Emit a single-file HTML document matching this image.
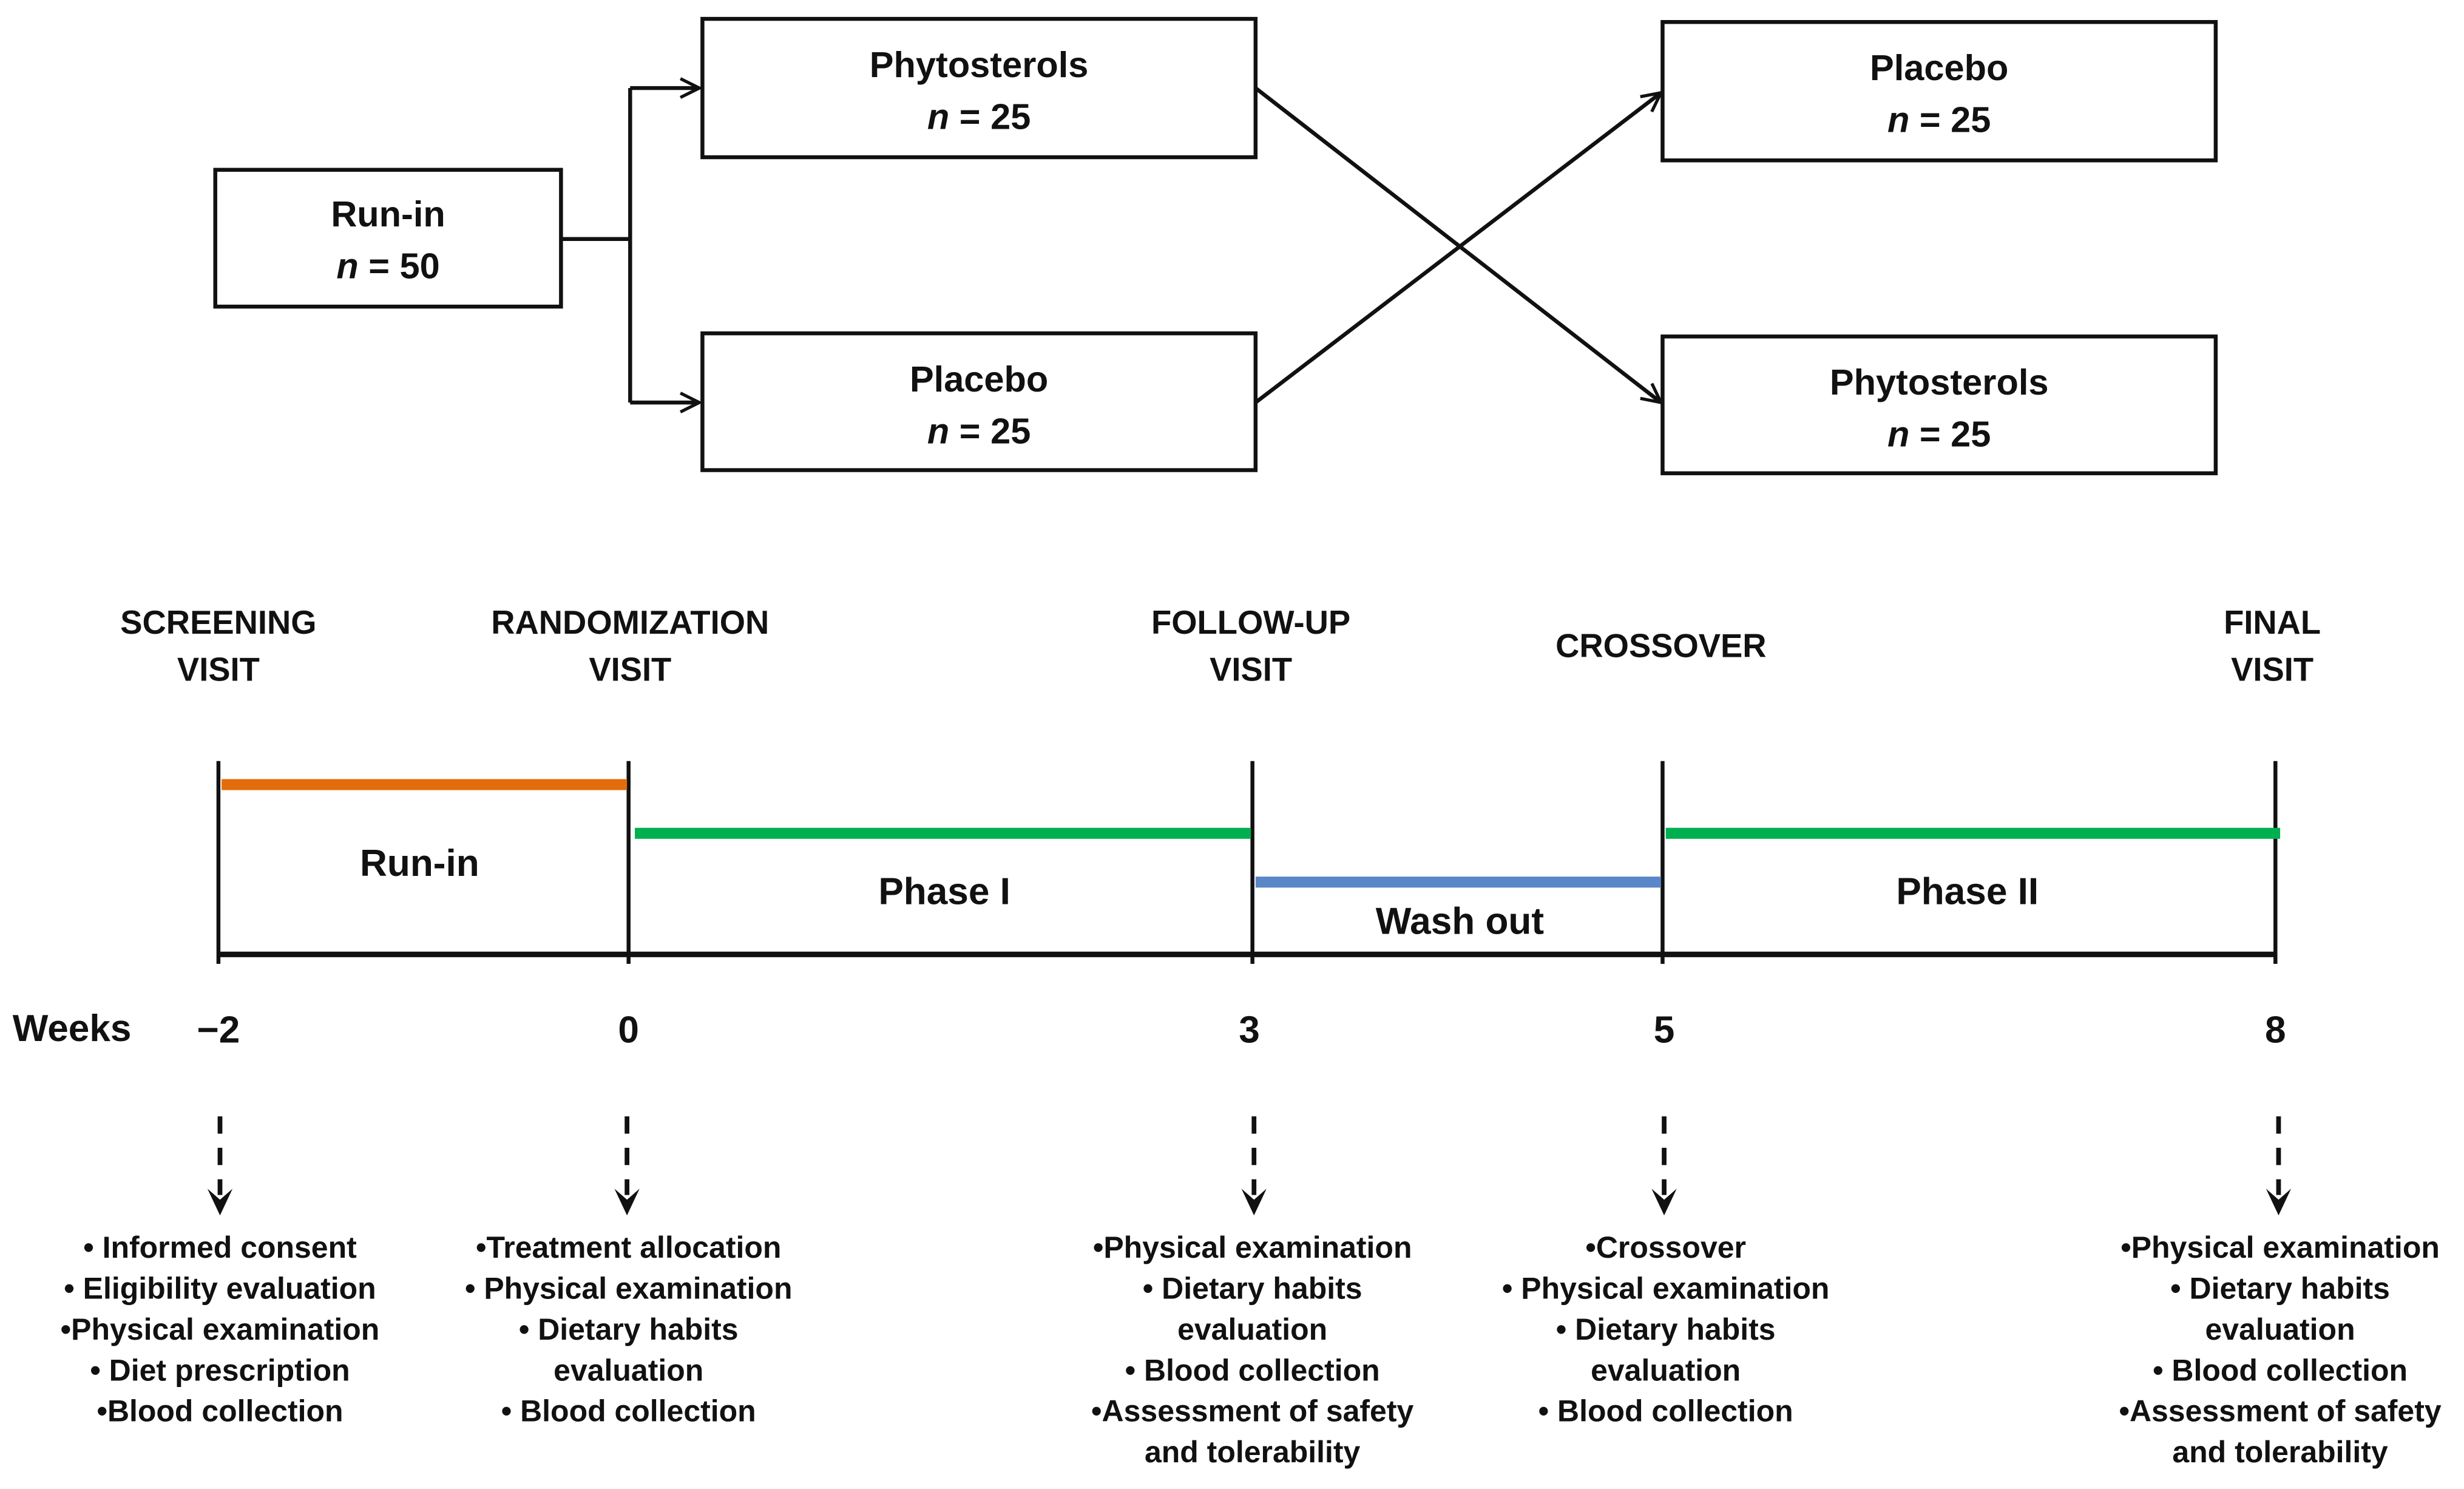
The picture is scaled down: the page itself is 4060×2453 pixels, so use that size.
<!DOCTYPE html>
<html><head><meta charset="utf-8"><style>
html,body{margin:0;padding:0;background:#fff;}
svg{display:block;}
text{font-family:"Liberation Sans",sans-serif;fill:#111;}
.h{font-size:21px;font-weight:bold;text-anchor:middle;}
.b{font-size:23px;font-weight:bold;text-anchor:middle;}
.p{font-size:24px;font-weight:bold;text-anchor:middle;}
.l{font-size:19.3px;font-weight:bold;text-anchor:middle;}
</style></head><body>
<svg width="4060" height="2453" viewBox="0 0 1568 947" preserveAspectRatio="none" xmlns="http://www.w3.org/2000/svg">
<defs>
<marker id="a" viewBox="0 0 14 14" refX="13" refY="7" markerWidth="14" markerHeight="14" markerUnits="userSpaceOnUse" orient="auto">
<path d="M1,1 L13,7 L1,13" fill="none" stroke="#111" stroke-width="2"/>
</marker>
</defs>
<g fill="none" stroke="#111" stroke-width="2.5">
<rect x="137" y="108" width="220" height="87"/>
<rect x="447" y="12" width="352" height="88"/>
<rect x="447" y="212" width="352" height="87"/>
<rect x="1058" y="14" width="352" height="88"/>
<rect x="1058" y="214" width="352" height="87"/>
<path d="M357,152 H401 M401,56 V256"/>
<path d="M401,56 H445" marker-end="url(#a)"/>
<path d="M401,256 H445" marker-end="url(#a)"/>
<path d="M799,56 L1057,256" marker-end="url(#a)"/>
<path d="M799,256 L1057,59" marker-end="url(#a)"/>
</g>
<text class="b" x="247" y="144">Run-in</text><text class="b" x="247" y="177"><tspan font-style="italic">n</tspan> = 50</text>
<text class="b" x="623" y="49">Phytosterols</text><text class="b" x="623" y="82"><tspan font-style="italic">n</tspan> = 25</text>
<text class="b" x="623" y="249">Placebo</text><text class="b" x="623" y="282"><tspan font-style="italic">n</tspan> = 25</text>
<text class="b" x="1234" y="51">Placebo</text><text class="b" x="1234" y="84"><tspan font-style="italic">n</tspan> = 25</text>
<text class="b" x="1234" y="251">Phytosterols</text><text class="b" x="1234" y="284"><tspan font-style="italic">n</tspan> = 25</text>

<text class="h" x="139" y="403">SCREENING</text><text class="h" x="139" y="433">VISIT</text>
<text class="h" x="401" y="403">RANDOMIZATION</text><text class="h" x="401" y="433">VISIT</text>
<text class="h" x="796" y="403">FOLLOW-UP</text><text class="h" x="796" y="433">VISIT</text>
<text class="h" x="1057" y="418">CROSSOVER</text>
<text class="h" x="1446" y="403">FINAL</text><text class="h" x="1446" y="433">VISIT</text>

<g stroke="#111" stroke-width="2.5">
<path d="M139,484 V613 M400,484 V613 M797,484 V613 M1058,484 V613 M1448,484 V613"/>
<path d="M139,607 H1448" stroke-width="3.5"/>
</g>
<path d="M141,499 H399" stroke="#E46C0A" stroke-width="7"/>
<path d="M404,530 H796" stroke="#00B050" stroke-width="7"/>
<path d="M799,561 H1057" stroke="#5B87C8" stroke-width="7"/>
<path d="M1060,530 H1451" stroke="#00B050" stroke-width="7"/>
<text class="p" x="267" y="557">Run-in</text>
<text class="p" x="601" y="575">Phase I</text>
<text class="p" x="929" y="594">Wash out</text>
<text class="p" x="1252" y="575">Phase II</text>

<text class="p" x="8" y="662" style="text-anchor:start">Weeks</text>
<text class="p" x="139" y="663">−2</text>
<text class="p" x="400" y="663">0</text>
<text class="p" x="795" y="663">3</text>
<text class="p" x="1059" y="663">5</text>
<text class="p" x="1448" y="663">8</text>

<g stroke="#111" stroke-width="3" fill="#111">
<path d="M140,710 V760 M399,710 V760 M798,710 V760 M1059,710 V760 M1450,710 V760" stroke-dasharray="11,9"/>
</g>
<g fill="#111">
<path d="M132,756 L140,773 L148,756 L140,763Z"/>
<path d="M391,756 L399,773 L407,756 L399,763Z"/>
<path d="M790,756 L798,773 L806,756 L798,763Z"/>
<path d="M1051,756 L1059,773 L1067,756 L1059,763Z"/>
<path d="M1442,756 L1450,773 L1458,756 L1450,763Z"/>
</g>

<text class="l" x="140" y="800">• Informed consent</text>
<text class="l" x="140" y="826">• Eligibility evaluation</text>
<text class="l" x="140" y="852">•Physical examination</text>
<text class="l" x="140" y="878">• Diet prescription</text>
<text class="l" x="140" y="904">•Blood collection</text>

<text class="l" x="400" y="800">•Treatment allocation</text>
<text class="l" x="400" y="826">• Physical examination</text>
<text class="l" x="400" y="852">• Dietary habits</text>
<text class="l" x="400" y="878">evaluation</text>
<text class="l" x="400" y="904">• Blood collection</text>

<text class="l" x="797" y="800">•Physical examination</text>
<text class="l" x="797" y="826">• Dietary habits</text>
<text class="l" x="797" y="852">evaluation</text>
<text class="l" x="797" y="878">• Blood collection</text>
<text class="l" x="797" y="904">•Assessment of safety</text>
<text class="l" x="797" y="930">and tolerability</text>

<text class="l" x="1060" y="800">•Crossover</text>
<text class="l" x="1060" y="826">• Physical examination</text>
<text class="l" x="1060" y="852">• Dietary habits</text>
<text class="l" x="1060" y="878">evaluation</text>
<text class="l" x="1060" y="904">• Blood collection</text>

<text class="l" x="1451" y="800">•Physical examination</text>
<text class="l" x="1451" y="826">• Dietary habits</text>
<text class="l" x="1451" y="852">evaluation</text>
<text class="l" x="1451" y="878">• Blood collection</text>
<text class="l" x="1451" y="904">•Assessment of safety</text>
<text class="l" x="1451" y="930">and tolerability</text>
</svg>
</body></html>
